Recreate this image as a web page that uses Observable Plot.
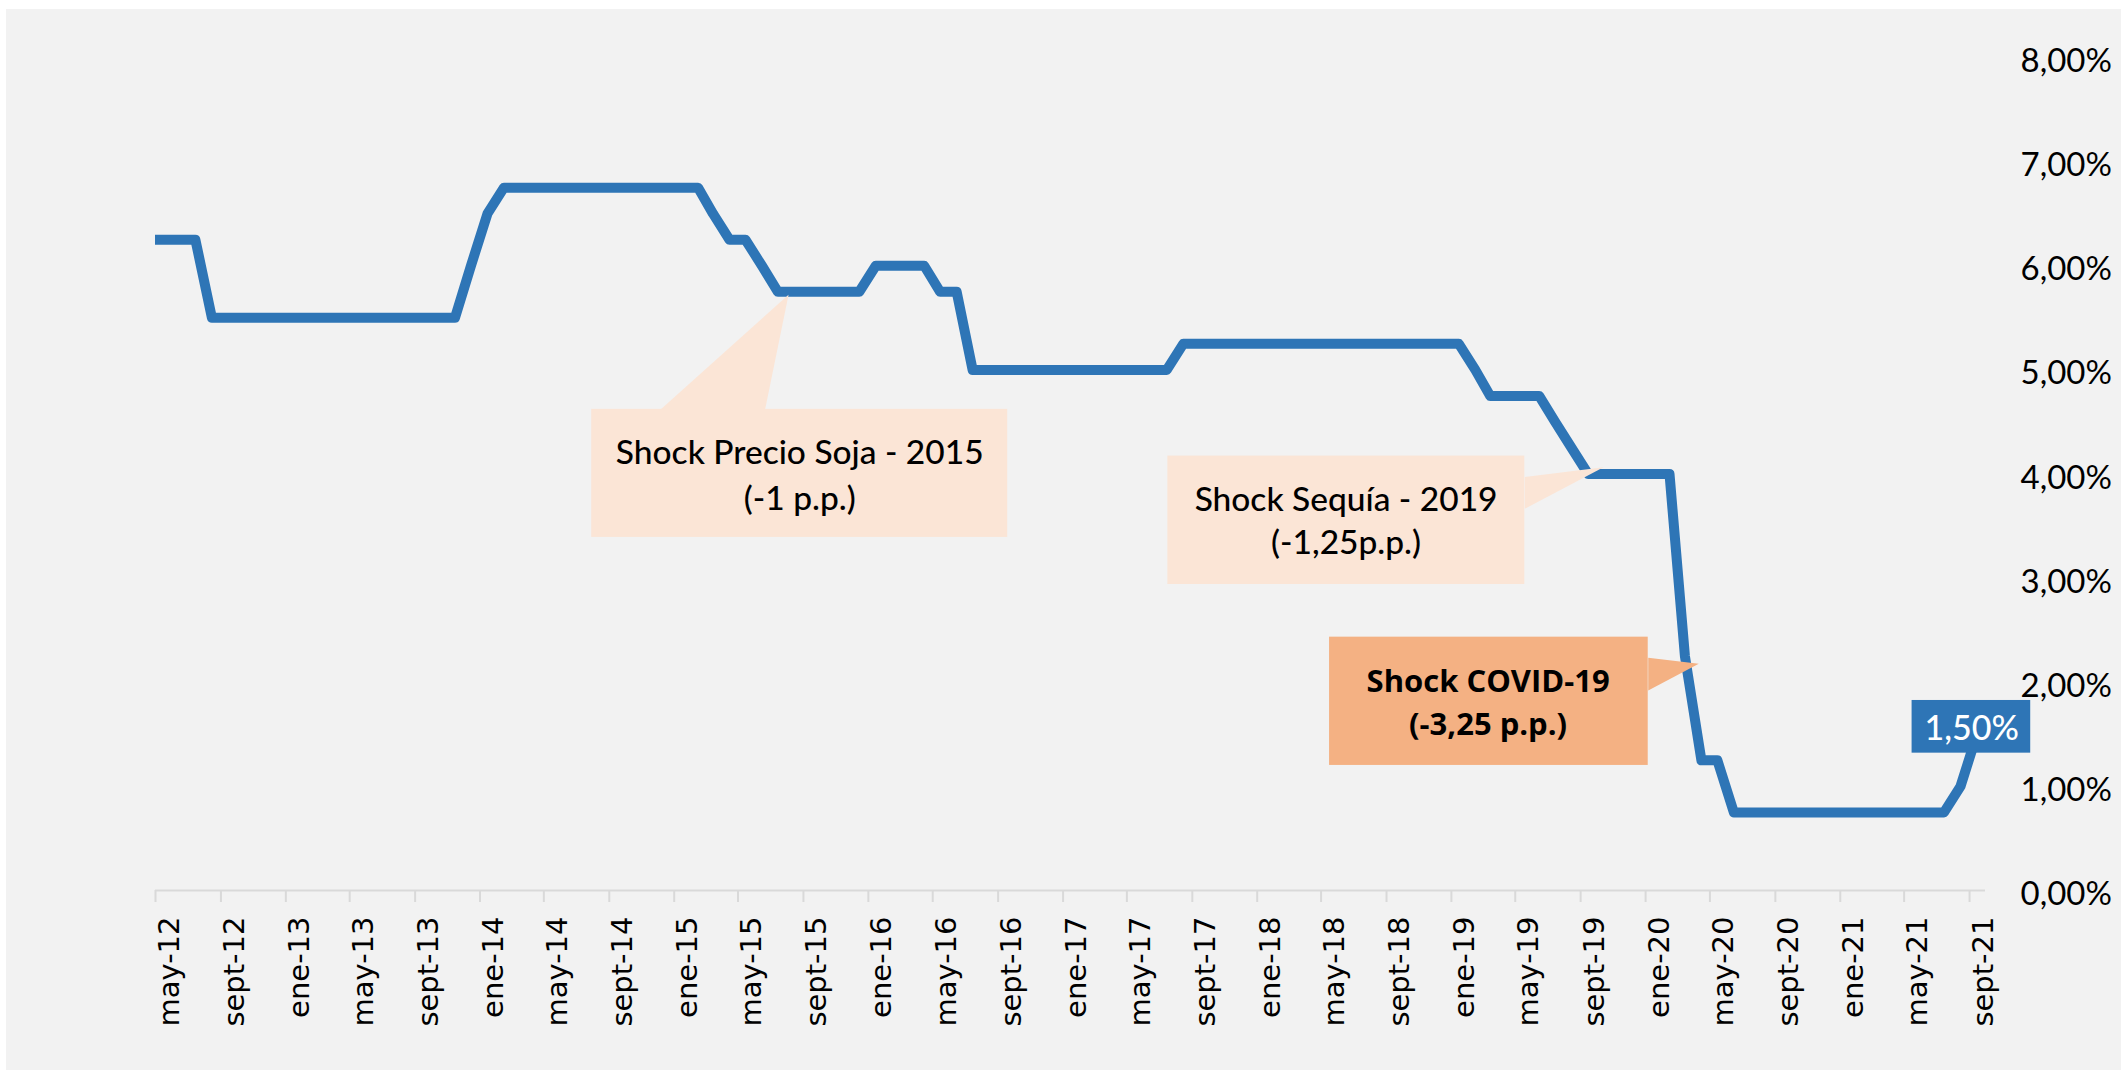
<!DOCTYPE html>
<html>
<head>
<meta charset="utf-8">
<script src="https://cdn.jsdelivr.net/npm/d3@7"></script>
<script src="https://cdn.jsdelivr.net/npm/@observablehq/plot@0.6"></script>
<style>
  html, body { margin: 0; padding: 0; background: #ffffff; overflow: hidden; }
  #panel { position: absolute; left: 6px; top: 9px; width: 2115px; height: 1061px; background: #f2f2f2; }
  #panel svg { display: block; }
</style>
</head>
<body>
<div id="panel"></div>
<script>
// Monthly policy rate (%), one value per month from abr-2012 to sept-2021 (mid-month observations)
const firstMonth = "2012-04-15";
const tpm = [
  // 2012 (abr-dic)
  6.25, 6.25, 6.25, 6.25, 5.50, 5.50, 5.50, 5.50, 5.50,
  // 2013
  5.50, 5.50, 5.50, 5.50, 5.50, 5.50, 5.50, 5.50, 5.50, 5.50, 5.50, 6.00,
  // 2014
  6.50, 6.75, 6.75, 6.75, 6.75, 6.75, 6.75, 6.75, 6.75, 6.75, 6.75, 6.75,
  // 2015
  6.75, 6.75, 6.50, 6.25, 6.25, 6.00, 5.75, 5.75, 5.75, 5.75, 5.75, 5.75,
  // 2016
  6.00, 6.00, 6.00, 6.00, 5.75, 5.75, 5.00, 5.00, 5.00, 5.00, 5.00, 5.00,
  // 2017
  5.00, 5.00, 5.00, 5.00, 5.00, 5.00, 5.00, 5.25, 5.25, 5.25, 5.25, 5.25,
  // 2018
  5.25, 5.25, 5.25, 5.25, 5.25, 5.25, 5.25, 5.25, 5.25, 5.25, 5.25, 5.25,
  // 2019
  5.25, 5.00, 4.75, 4.75, 4.75, 4.75, 4.50, 4.25, 4.00, 4.00, 4.00, 4.00,
  // 2020
  4.00, 4.00, 2.25, 1.25, 1.25, 0.75, 0.75, 0.75, 0.75, 0.75, 0.75, 0.75,
  // 2021 (ene-sept)
  0.75, 0.75, 0.75, 0.75, 0.75, 0.75, 0.75, 1.00, 1.50
];

// X axis tick labels (every 4 months starting may-2012)
const tickStart = "2012-05-01";
const tickLabels = [
  "may-12", "sept-12", "ene-13", "may-13", "sept-13", "ene-14", "may-14", "sept-14",
  "ene-15", "may-15", "sept-15", "ene-16", "may-16", "sept-16", "ene-17", "may-17",
  "sept-17", "ene-18", "may-18", "sept-18", "ene-19", "may-19", "sept-19", "ene-20",
  "may-20", "sept-20", "ene-21", "may-21", "sept-21"
];
const xDomain = ["2012-05-01", "2021-10-01"];

// Y axis ticks (%)
const yTicks = [0, 1, 2, 3, 4, 5, 6, 7, 8];

// Callout boxes (data coordinates: dates and % values)
const calloutBoxes = [
  {id: "soja",   x1: "2014-07-30", x2: "2016-09-19", y1: 3.391, y2: 4.621, fill: "#fbe5d6"},
  {id: "sequia", x1: "2017-07-17", x2: "2019-05-19", y1: 2.939, y2: 4.172, fill: "#fbe5d6"},
  {id: "covid",  x1: "2018-05-17", x2: "2020-01-06", y1: 1.201, y2: 2.433, fill: "#f4b183"}
];
const calloutPointers = [
  {id: "soja",   fill: "#fbe5d6", pts: [["2014-12-07", 4.621], ["2015-08-04", 5.722], ["2015-06-21", 4.621]]},
  {id: "sequia", fill: "#fbe5d6", pts: [["2019-05-19", 3.970], ["2019-10-14", 4.066], ["2019-05-19", 3.667]]},
  {id: "covid",  fill: "#f4b183", pts: [["2020-01-06", 2.235], ["2020-04-10", 2.178], ["2020-01-06", 1.921]]}
];
const calloutText = [
  {x: "2015-08-25", y: 4.093, text: "Shock Precio Soja - 2015", bold: false},
  {x: "2015-08-25", y: 3.655, text: "(-1 p.p.)", bold: false},
  {x: "2018-06-17", y: 3.641, text: "Shock Sequía - 2019", bold: false},
  {x: "2018-06-17", y: 3.228, text: "(-1,25p.p.)", bold: false},
  {x: "2019-03-11", y: 1.905, text: "Shock COVID-19", bold: true},
  {x: "2019-03-11", y: 1.489, text: "(-3,25 p.p.)", bold: true}
];

// Last value data label
const lastLabelBox = [{x1: "2021-05-16", x2: "2021-12-25", y1: 1.319, y2: 1.825}];
const lastLabelText = [{x: "2021-09-05", y: 1.441, text: "1,50%"}];

// ---- build ----
const D = (s) => new Date(s);
const start = D(firstMonth);
const series = tpm.map((v, i) => ({date: d3.utcMonth.offset(start, i), value: v}));
const tickDates = tickLabels.map((_, i) => d3.utcMonth.offset(D(tickStart), 4 * i));
const yFmt = (d) => d.toFixed(2).replace(".", ",") + "%";

const lineColor = "#2e75b6";

const pointerMarks = calloutPointers.map((p) =>
  Plot.line(p.pts, {x: (d) => D(d[0]), y: (d) => d[1], fill: p.fill, stroke: "none"})
);

const plot = Plot.plot({
  width: 2115,
  height: 1061,
  marginLeft: 149,
  marginRight: 136,
  marginTop: 48,
  marginBottom: 180,
  style: {background: "#f2f2f2", overflow: "visible"},
  x: {type: "utc", domain: xDomain.map(D), axis: null, label: null},
  y: {domain: [0, 8], axis: null, label: null},
  marks: [
    Plot.ruleY([0], {stroke: "#d9d9d9", strokeWidth: 2}),
    Plot.axisX({ticks: tickDates, tickSize: 12, tickFormat: () => "", stroke: "#d9d9d9", strokeWidth: 2, label: null}),
    Plot.text(tickDates, {
      x: (d) => d, text: (d, i) => tickLabels[i], frameAnchor: "bottom",
      rotate: -90, textAnchor: "end", lineAnchor: "bottom", dx: 23, dy: 26,
      fontFamily: "DejaVu Sans", fontSize: 29, fill: "#000"
    }),
    Plot.text(yTicks, {
      y: (d) => d, text: yFmt, frameAnchor: "right", textAnchor: "start",
      dx: 35, dy: 4, fontFamily: "Lato", fontSize: 33, fill: "#000"
    }),
    Plot.line(series, {x: "date", y: "value", stroke: lineColor, strokeWidth: 10, strokeLinejoin: "round", clip: true}),
    Plot.rect(calloutBoxes, {x1: (d) => D(d.x1), x2: (d) => D(d.x2), y1: "y1", y2: "y2", fill: "fill"}),
    ...pointerMarks,
    Plot.text(calloutText.filter((d) => !d.bold), {
      x: (d) => D(d.x), y: "y", text: "text", textAnchor: "middle", lineAnchor: "bottom",
      fontFamily: "Lato", fontWeight: 500, fontSize: 33.5, fill: "#000"
    }),
    Plot.text(calloutText.filter((d) => d.bold), {
      x: (d) => D(d.x), y: "y", text: "text", textAnchor: "middle", lineAnchor: "bottom",
      fontFamily: "Open Sans", fontWeight: "bold", fontSize: 31, fill: "#000"
    }),
    Plot.rect(lastLabelBox, {x1: (d) => D(d.x1), x2: (d) => D(d.x2), y1: "y1", y2: "y2", fill: lineColor}),
    Plot.text(lastLabelText, {
      x: (d) => D(d.x), y: "y", text: "text", textAnchor: "middle", lineAnchor: "bottom",
      fontFamily: "Lato", fontWeight: 500, fontSize: 34, fill: "#ffffff"
    })
  ]
});

document.getElementById("panel").appendChild(plot);
</script>
</body>
</html>
